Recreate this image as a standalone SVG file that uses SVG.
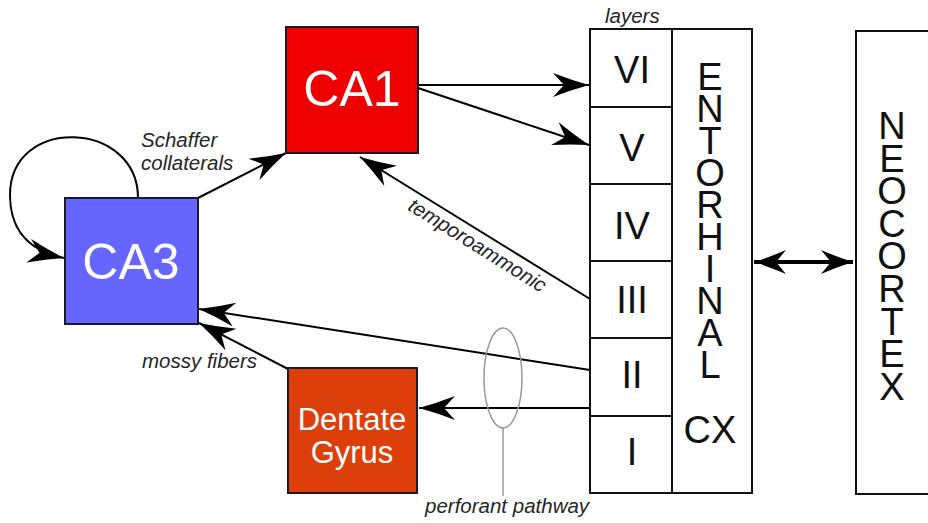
<svg xmlns="http://www.w3.org/2000/svg" width="928" height="523" viewBox="0 0 928 523">
<style>
.box{stroke:#1a1a2a;stroke-width:2}
.frame{fill:#fff;stroke:#111;stroke-width:2}
.big{font-family:"Liberation Sans",Arial,sans-serif;fill:#fff;text-anchor:middle}
.let{font-family:"Liberation Sans",Arial,sans-serif;font-size:38px;fill:#111;text-anchor:middle}
.lab{font-family:"Liberation Sans",Arial,sans-serif;font-style:italic;font-size:20.5px;fill:#262626}
.ln{fill:none;stroke:#000;stroke-width:2}
</style>
<defs>
<marker id="ah" viewBox="-38 -14 40 28" refX="0" refY="0" markerWidth="40" markerHeight="28" orient="auto" markerUnits="userSpaceOnUse">
<path d="M0,0 Q-18,-5 -36,-12 L-25,0 L-36,12 Q-18,5 0,0 Z" fill="#000"/>
</marker>
<marker id="ah2" viewBox="-34 -14 36 28" refX="0" refY="0" markerWidth="36" markerHeight="28" orient="auto-start-reverse" markerUnits="userSpaceOnUse">
<path d="M0,0 Q-16,-5 -32,-12 L-22,0 L-32,12 Q-16,5 0,0 Z" fill="#000"/>
</marker>
</defs>
<rect width="928" height="523" fill="#fff"/>

<g id="connectors">
<path class="ln" d="M138,198 C138,120 10,115 10,195 C10,235 35,252 64,258" marker-end="url(#ah)"/>
<line class="ln" x1="198" y1="198" x2="286" y2="153" marker-end="url(#ah)"/>
<line class="ln" x1="418" y1="85" x2="589" y2="85" marker-end="url(#ah)"/>
<line class="ln" x1="418" y1="88" x2="589" y2="145" marker-end="url(#ah)"/>
<line class="ln" x1="590" y1="299" x2="360" y2="157" marker-end="url(#ah)"/>
<line class="ln" x1="590" y1="370" x2="199" y2="309" marker-end="url(#ah)"/>
<line class="ln" x1="288" y1="369" x2="199" y2="323" marker-end="url(#ah)"/>
<line class="ln" x1="590" y1="408" x2="419" y2="408" marker-end="url(#ah)"/>
<line x1="754" y1="262" x2="853" y2="262" stroke="#000" stroke-width="4" marker-start="url(#ah2)" marker-end="url(#ah2)"/>
</g>

<g id="perforant">
<ellipse cx="503" cy="378" rx="19" ry="50" fill="none" stroke="#999" stroke-width="1.5"/>
<line x1="503" y1="428" x2="503" y2="496" stroke="#999" stroke-width="1.5"/>
</g>

<g id="ca3">
<rect class="box" x="65" y="198" width="133" height="126" fill="#6666ff"/>
<text class="big" x="131" y="279" font-size="50">CA3</text>
</g>

<g id="ca1">
<rect class="box" x="286" y="27" width="132" height="126" fill="#ee0000"/>
<text class="big" x="352" y="106" font-size="50">CA1</text>
</g>

<g id="dentate">
<rect class="box" x="288" y="368" width="129" height="125" fill="#dd3f0a"/>
<text class="big" x="352" y="430" font-size="31" fill="#fff3e0">Dentate</text>
<text class="big" x="352" y="463" font-size="31" fill="#fff3e0">Gyrus</text>
</g>

<g id="entorhinal">
<rect class="frame" x="590" y="29" width="162" height="464"/>
<line x1="672" y1="29" x2="672" y2="493" stroke="#111" stroke-width="2"/>
<g stroke="#111" stroke-width="2">
<line x1="590" y1="107" x2="672" y2="107"/>
<line x1="590" y1="184" x2="672" y2="184"/>
<line x1="590" y1="261" x2="672" y2="261"/>
<line x1="590" y1="338" x2="672" y2="338"/>
<line x1="590" y1="416" x2="672" y2="416"/>
</g>
<text class="let" x="632" y="83">VI</text>
<text class="let" x="632" y="161">V</text>
<text class="let" x="632" y="239">IV</text>
<text class="let" x="632" y="313">III</text>
<text class="let" x="632" y="388">II</text>
<text class="let" x="632" y="465">I</text>
<text class="let"><tspan x="710" y="90">E</tspan><tspan x="710" dy="32">N</tspan><tspan x="710" dy="32">T</tspan><tspan x="710" dy="32">O</tspan><tspan x="710" dy="32">R</tspan><tspan x="710" dy="32">H</tspan><tspan x="710" dy="32">I</tspan><tspan x="710" dy="32">N</tspan><tspan x="710" dy="32">A</tspan><tspan x="710" dy="32">L</tspan></text>
<text class="let" x="710" y="443">CX</text>
</g>

<g id="neocortex">
<rect class="frame" x="856" y="31" width="100" height="463"/>
<text class="let"><tspan x="892" y="139">N</tspan><tspan x="892" dy="32.6">E</tspan><tspan x="892" dy="32.6">O</tspan><tspan x="892" dy="32.6">C</tspan><tspan x="892" dy="32.6">O</tspan><tspan x="892" dy="32.6">R</tspan><tspan x="892" dy="32.6">T</tspan><tspan x="892" dy="32.6">E</tspan><tspan x="892" dy="32.6">X</tspan></text>
</g>

<g id="labels">
<text class="lab" x="605" y="23">layers</text>
<text class="lab" x="141" y="147">Schaffer</text>
<text class="lab" x="141" y="170">collaterals</text>
<text class="lab" x="142" y="368">mossy fibers</text>
<text class="lab" x="425" y="513">perforant pathway</text>
<text class="lab" text-anchor="middle" transform="translate(477,246) rotate(32)" x="0" y="6">temporoammonic</text>
</g>
</svg>
